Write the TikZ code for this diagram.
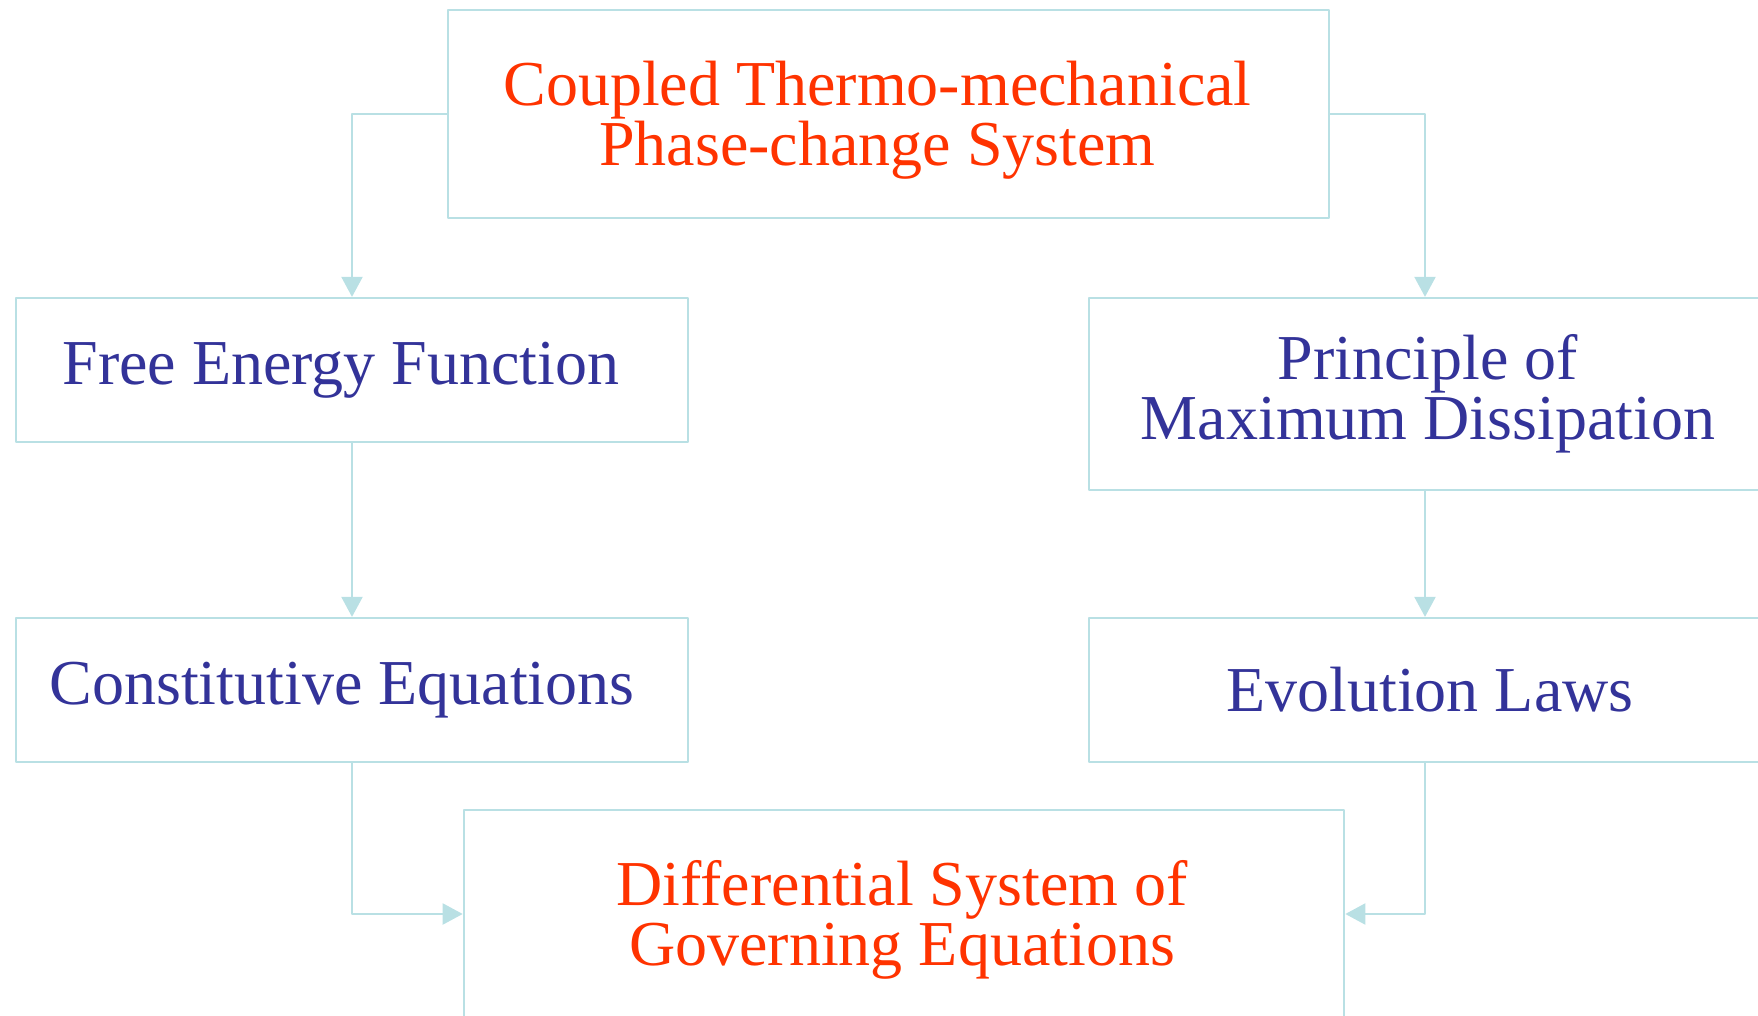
\documentclass[tikz,border=0pt]{standalone}
\usepackage{fontspec}
\setmainfont{Liberation Serif}
\usetikzlibrary{arrows.meta}
\definecolor{vien}{RGB}{185,224,228}
\definecolor{chuxanh}{RGB}{51,51,153}
\definecolor{chudo}{RGB}{255,51,0}
\begin{document}
\begin{tikzpicture}[x=0.01cm,y=-0.01cm,line join=round,
	box/.style={draw=vien,line width=0.6pt,rectangle,inner sep=0pt,
		minimum width=6.72cm,minimum height=1.44cm},
	boxlon/.style={box,minimum width=8.81cm,minimum height=2.08cm},
	chu/.style={align=center,inner sep=0pt,text=chuxanh,font=\fontsize{18.2}{17}\selectfont},
	chudo/.style={chu,text=chudo},
	link/.style={draw=vien,line width=0.6pt,-{Triangle[length=2mm,width=2.1mm]}}]
	\useasboundingbox (0,0) rectangle (1758,1016);
	\clip (0,0) rectangle (1758,1016);
	%%% cac khung
	\node[boxlon] (top) at (888.5,114) {};
	\node[box] (free) at (352,370) {};
	\node[box,minimum height=1.92cm] (principle) at (1425,394) {};
	\node[box] (const) at (352,690) {};
	\node[box] (evol) at (1425,690) {};
	\node[boxlon,minimum width=8.8cm] (bottom) at (904,914) {};
	%%% chu
	\node[chudo] (top-t) at ([shift={(-11,6)}]top) {Coupled Thermo-mechanical\\Phase-change System};
	\node[chu] (free-t) at ([shift={(-11,0)}]free) {Free Energy Function};
	\node[chu] (principle-t) at ([shift={(3,0)}]principle) {Principle of\\Maximum Dissipation};
	\node[chu] (const-t) at ([shift={(-10,0)}]const) {Constitutive Equations};
	\node[chu] (evol-t) at ([shift={(5,0)}]evol) {Evolution Laws};
	\node[chudo] (bottom-t) at ([shift={(-2,6)}]bottom) {Differential System of\\Governing Equations};
	%%% mui ten
	\draw[link] (top.west) -| (free.north);
	\draw[link] (top.east) -| (principle.north);
	\draw[link] (free) -- (const);
	\draw[link] (principle) -- (evol);
	\draw[link] (const.south) |- (bottom.west);
	\draw[link] (evol.south) |- (bottom.east);
\end{tikzpicture}
\end{document}
